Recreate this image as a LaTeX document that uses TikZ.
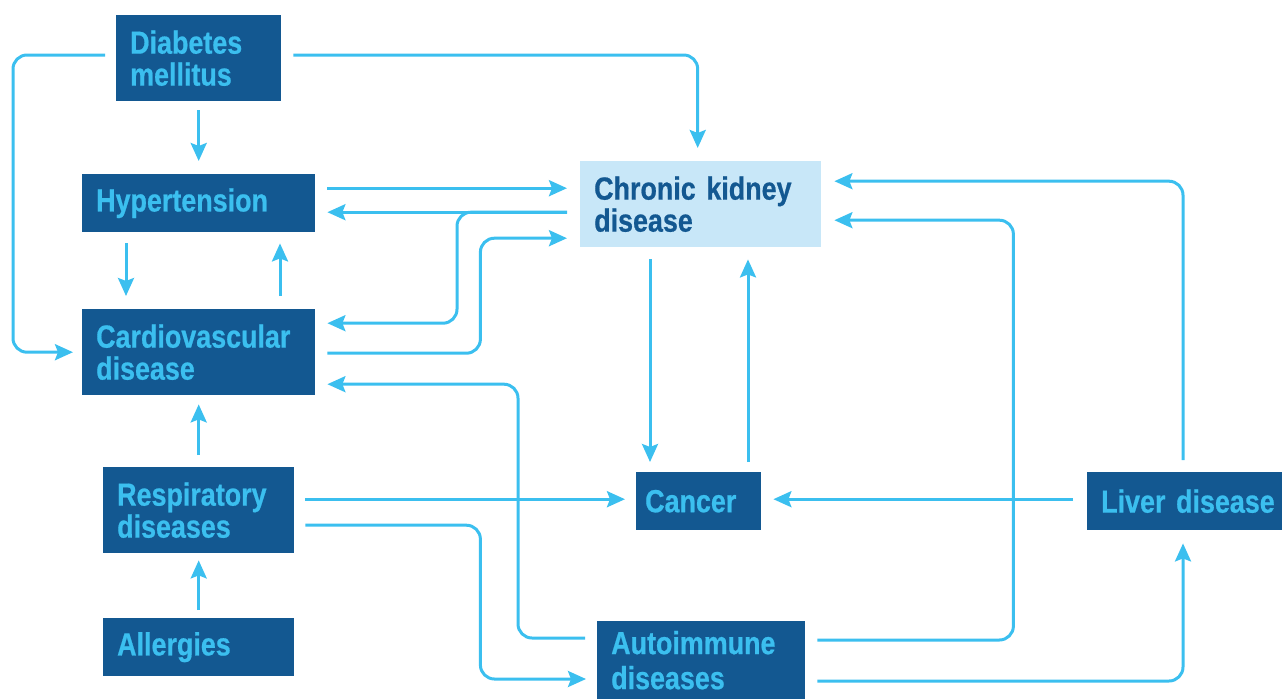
\documentclass[tikz,border=0pt]{standalone}
\usepackage{fontspec}
\newfontfamily\boxfont{Liberation Sans Bold}[FakeStretch=0.84,FakeBold=0.6]
\usetikzlibrary{calc,arrows.meta}
\definecolor{boxblue}{HTML}{135891}
\definecolor{lineblue}{HTML}{3BBFEF}
\definecolor{paleblue}{HTML}{C8E7F8}
\tikzset{
  box/.style={fill=boxblue, text=lineblue, anchor=north west, align=left,
    inner xsep=14pt, inner ysep=0pt, font=\boxfont\fontsize{32}{32}\selectfont},
  ckdbox/.style={box, fill=paleblue, text=boxblue},
  arr/.style={draw=lineblue, line width=3pt, rounded corners=14pt,
    -{Stealth[length=18pt,width=16pt,inset=3pt]}}
}
\begin{document}
\begin{tikzpicture}[x=1pt,y=-1pt]
  \useasboundingbox (0,0) rectangle (1282,699);
  % Cajas de la izquierda
  \node[box, text width=137, minimum height=86] (dm) at (116,15) {Diabetes\\mellitus};
  \node[box, text width=205, minimum height=58] (hyp) at (82,174) {Hypertension};
  \node[box, text width=205, minimum height=86] (cvd) at (82,309) {Cardiovascular\\disease};
  \node[box, text width=163, minimum height=86] (resp) at (103,467) {Respiratory\\diseases};
  \node[box, text width=163, minimum height=58] (allg) at (103,618) {Allergies};
  % Cajas de la derecha
  \node[ckdbox, text width=213, minimum height=86] (ckd) at (580,161) {Chronic kidney\\disease};
  \node[box, inner xsep=9pt, text width=107, minimum height=58] (can) at (636,472) {Cancer};
  \node[box, text width=181, minimum height=58] (liv) at (1087,472) {Liver disease};
  \node[box, text width=180, minimum height=78,
    font=\boxfont\fontsize{32}{35}\selectfont] (aut) at (597,621) {Autoimmune\\diseases};
  % Flechas desde diabetes
  \draw[arr] ($(dm.north east)+(12,40)$) -| ($(ckd.north)+(-3,-13)$);
  \draw[arr] ($(dm.north west)+(-11,40)$) -- ++(-92,0) |- ($(cvd.west)+(-9,0)$);
  \draw[arr] ($(dm.south)+(0,9)$) -- ($(hyp.north)+(0,-13)$);
  % Hipertension, cardiovascular y rinon
  \draw[arr] ($(hyp.east)+(12,-15)$) -- ($(ckd.west)+(-13,-16)$);
  \draw[arr] ($(ckd.west)+(-13,8)$) -- ($(hyp.east)+(12,9)$);
  \draw[arr] ($(ckd.west)+(-13,8)$) -- ++(-110,0) |- ($(cvd.east)+(12,-29)$);
  \draw[arr] ($(cvd.east)+(12,1)$) -- ++(153,0) |- ($(ckd.west)+(-13,34)$);
  \draw[arr] ($(hyp.south west)+(44,11)$) -- ($(cvd.north west)+(44,-13)$);
  \draw[arr] ($(cvd.north west)+(198,-13)$) -- ($(hyp.south west)+(198,11)$);
  \draw[arr] ($(aut.north west)+(-12,17)$) -- ++(-67,0) |- ($(cvd.east)+(12,32)$);
  % Respiratorias y alergias
  \draw[arr] ($(resp.north)+(0,-12)$) -- ($(cvd.south)+(0,9)$);
  \draw[arr] ($(allg.north)+(0,-8)$) -- ($(resp.south)+(0,7)$);
  \draw[arr] ($(resp.east)+(11,-11)$) -- ($(can.west)+(-11,-2)$);
  \draw[arr] ($(resp.east)+(11,15)$) -- ++(175,0) |- ($(aut.north west)+(-11,58)$);
  % Cancer, higado y autoinmunes
  \draw[arr] ($(ckd.south west)+(70,12)$) -- ($(can.north west)+(14,-10)$);
  \draw[arr] ($(can.north west)+(112,-10)$) -- ($(ckd.south west)+(168,12)$);
  \draw[arr] ($(liv.west)+(-14,-2)$) -- ($(can.east)+(12,-2)$);
  \draw[arr] ($(liv.north west)+(96,-12)$) |- ($(ckd.east)+(13,-23)$);
  \draw[arr] ($(aut.north east)+(12,19)$) -- ++(196,0) |- ($(ckd.east)+(13,16)$);
  \draw[arr] ($(aut.north east)+(12,60)$) -| ($(liv.south west)+(96,13)$);
\end{tikzpicture}
\end{document}
